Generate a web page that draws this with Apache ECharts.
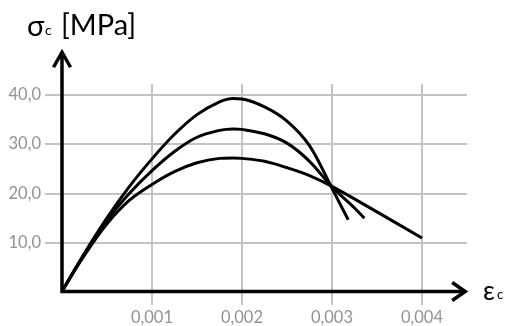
<!DOCTYPE html>
<html>
<head>
<meta charset="utf-8">
<script src="https://cdn.jsdelivr.net/npm/echarts@6/dist/echarts.min.js"></script>
<style>
  html, body { margin: 0; padding: 0; background: #ffffff; }
  #chart { width: 506px; height: 326px; }
</style>
</head>
<body>
<div id="chart"></div>
<script>
// Strain values (εc) and stresses (σc, MPa) of the three stress-strain curves
const epsA = [0, 0.00025, 0.0005, 0.00075, 0.001, 0.00125, 0.0015, 0.00175, 0.0019, 0.002, 0.00225, 0.0025, 0.00275, 0.003, 0.00318];
const sigA = [0, 7.8, 15.0, 21.4, 27.0, 32.0, 36.0, 38.6, 39.3, 39.2, 37.6, 34.7, 29.7, 21.0, 14.6];

const epsB = [0, 0.00025, 0.0005, 0.00075, 0.001, 0.00125, 0.0015, 0.00175, 0.0019, 0.002, 0.00225, 0.0025, 0.00275, 0.003, 0.00325, 0.00336];
const sigB = [0, 7.7, 14.5, 20.0, 24.6, 28.5, 31.4, 32.8, 33.1, 33.0, 32.1, 30.2, 26.5, 21.3, 17.0, 14.9];

const epsC = [0, 0.00025, 0.0005, 0.00075, 0.001, 0.00125, 0.0015, 0.00175, 0.0019, 0.002, 0.00225, 0.0025, 0.00275, 0.003, 0.0035, 0.004];
const sigC = [0, 7.4, 13.8, 18.6, 21.8, 24.4, 26.2, 27.1, 27.2, 27.1, 26.5, 25.2, 23.6, 21.4, 16.2, 10.9];

// Tick values of both axes
const xTicks = [0.001, 0.002, 0.003, 0.004];
const yTicks = [10, 20, 30, 40];

// Where the arrow-tipped axes end, in axis units
const xArrowEnd = 0.00448;
const yArrowEnd = 48.7;

const GRID_COLOR = '#c3c3c3';
const LABEL_COLOR = '#929292';
const FONT = 'Lato, "Open Sans", sans-serif';

const pairs = (xs, ys) => xs.map((x, i) => [x, ys[i]]);
const comma = (v, d) => v.toFixed(d).replace('.', ',');

const curve = (data) => ({
  type: 'line',
  xAxisIndex: 0,
  yAxisIndex: 0,
  data: data,
  smooth: 0.35,
  showSymbol: false,
  symbol: 'none',
  clip: false,
  lineStyle: { color: '#000000', width: 3 },
  z: 5
});

const chart = echarts.init(document.getElementById('chart'), null, { renderer: 'canvas' });

chart.setOption({
  animation: false,
  backgroundColor: '#ffffff',
  grid: [
    // plotting area
    { left: 62, top: 95, width: 360, height: 196.5 },
    // horizontal gridlines, running past both ends of the x range
    { left: 45, top: 95, width: 422, height: 147.4 },
    // vertical gridlines, dropping below the x axis
    { left: 152, top: 84, width: 270, height: 221 }
  ],
  xAxis: [
    { gridIndex: 0, type: 'value', min: 0, max: xTicks[xTicks.length - 1], show: false },
    { gridIndex: 1, type: 'value', min: 0, max: 1, show: false },
    {
      gridIndex: 2, type: 'value',
      min: xTicks[0], max: xTicks[xTicks.length - 1], interval: xTicks[0],
      axisLine: { show: false }, axisTick: { show: false },
      splitLine: { show: true, lineStyle: { color: GRID_COLOR, width: 2 } },
      axisLabel: {
        color: LABEL_COLOR, fontFamily: FONT, fontSize: 16.5, margin: 4,
        formatter: v => comma(v, 3)
      }
    }
  ],
  yAxis: [
    { gridIndex: 0, type: 'value', min: 0, max: yTicks[yTicks.length - 1], show: false },
    {
      gridIndex: 1, type: 'value',
      min: yTicks[0], max: yTicks[yTicks.length - 1], interval: yTicks[0],
      axisLine: { show: false }, axisTick: { show: false },
      splitLine: { show: true, lineStyle: { color: GRID_COLOR, width: 2 } },
      axisLabel: {
        color: LABEL_COLOR, fontFamily: FONT, fontSize: 16.5, margin: 4,
        formatter: v => comma(v, 1)
      }
    },
    { gridIndex: 2, type: 'value', min: 0, max: 1, show: false }
  ],
  series: [
    curve(pairs(epsA, sigA)),
    curve(pairs(epsB, sigB)),
    curve(pairs(epsC, sigC))
  ]
});

// Axes with open arrowheads, placed through the plotting grid's scales
const toPx = (p) => chart.convertToPixel({ xAxisIndex: 0, yAxisIndex: 0 }, p);
const o = toPx([0, 0]);
const xt = toPx([xArrowEnd, 0]);
const yt = toPx([0, yArrowEnd]);
const axisStyle = { stroke: '#000000', lineWidth: 3.5, fill: null, lineCap: 'butt', lineJoin: 'miter' };

chart.setOption({
  graphic: [
    { type: 'polyline', z: 10, shape: { points: [[o[0], yt[1] + 1], [o[0], o[1]], [xt[0] - 1, o[1]]] }, style: axisStyle },
    { type: 'polyline', z: 10, shape: { points: [[xt[0] - 13, o[1] - 9], [xt[0], o[1]], [xt[0] - 13, o[1] + 9]] }, style: axisStyle },
    { type: 'polyline', z: 10, shape: { points: [[o[0] - 8.5, yt[1] + 15], [o[0], yt[1]], [o[0] + 8.5, yt[1] + 15]] }, style: axisStyle },

    // y axis title: σc [MPa]
    { type: 'text', z: 10, left: 27, top: 12, style: { text: 'σ', fontFamily: FONT, fontSize: 29, fill: '#000000' } },
    { type: 'text', z: 10, left: 45, top: 23, style: { text: 'c', fontFamily: FONT, fontSize: 14, fill: '#000000' } },
    { type: 'text', z: 10, left: 61, top: 11, style: { text: '[MPa]', fontFamily: FONT, fontSize: 29, fill: '#000000' } },

    // x axis title: εc
    { type: 'text', z: 10, left: 483, top: 279, style: { text: 'ε', fontFamily: FONT, fontSize: 26, fill: '#000000' } },
    { type: 'text', z: 10, left: 497, top: 288, style: { text: 'c', fontFamily: FONT, fontSize: 13, fill: '#000000' } }
  ]
});
</script>
</body>
</html>
